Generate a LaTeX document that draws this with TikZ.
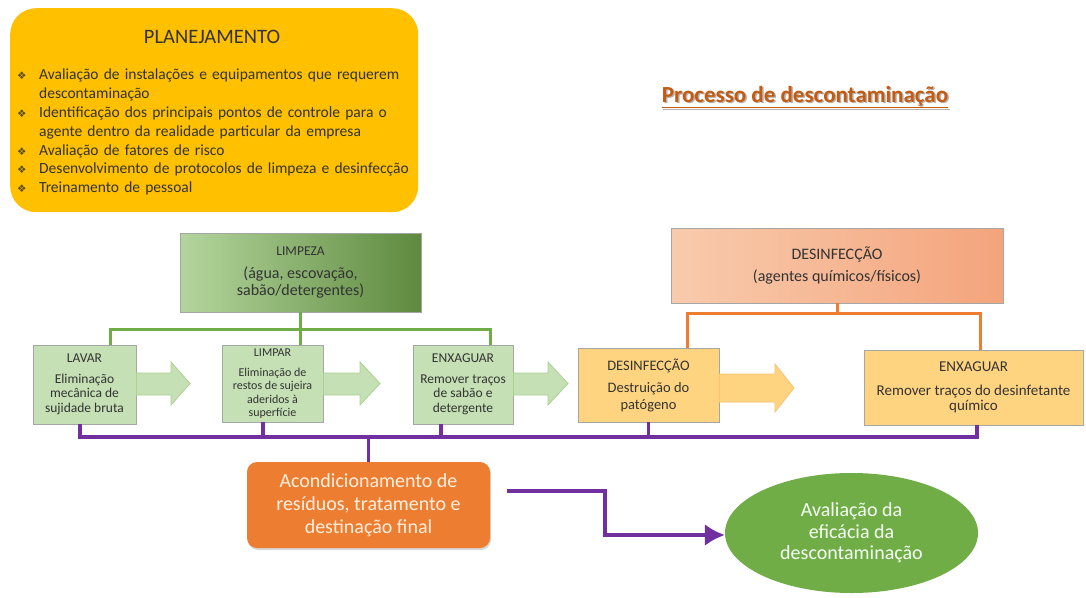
\documentclass[tikz,border=0pt]{standalone}
\usepackage{fontspec}
\setmainfont{Carlito}
\newfontfamily\symfont{DejaVu Sans}
\usetikzlibrary{shapes.geometric,shadows,arrows.meta}
\definecolor{plangold}{HTML}{FFC000}
\definecolor{titorange}{HTML}{C55A11}
\definecolor{lgreen}{HTML}{C5E0B4}
\definecolor{mgreen}{HTML}{70AD47}
\definecolor{dgreen}{HTML}{5E8A3E}
\definecolor{lorange}{HTML}{F8CBAD}
\definecolor{morange}{HTML}{F4A47C}
\definecolor{corange}{HTML}{ED7D31}
\definecolor{lyellow}{HTML}{FFD480}
\definecolor{purp}{HTML}{7030A0}
\definecolor{boxline}{HTML}{A6A6A6}
\definecolor{txt}{HTML}{333333}
\definecolor{bulcol}{HTML}{5A4A10}
\newcommand{\bul}{\makebox[22pt][l]{\color{bulcol}\symfont\fontsize{10.5}{10}\selectfont ❖}}
\tikzset{
  stepgreen/.style={draw=boxline, line width=0.8pt, fill=lgreen, text=txt, align=center, inner sep=0pt},
  stepyellow/.style={draw=boxline, line width=0.8pt, fill=lyellow, text=txt, align=center, inner sep=0pt},
  garrow/.style={draw=lgreen!70!mgreen, line width=0.8pt, fill=lgreen},
  yarrow/.style={draw=lyellow!80!corange, line width=0.8pt, fill=lyellow},
  gline/.style={draw=mgreen, line width=3pt},
  oline/.style={draw=corange, line width=3pt},
  pline/.style={draw=purp, line width=3.5pt},
  header/.style={draw=boxline, line width=0.8pt, text=txt, align=center, inner sep=0pt},
}
\begin{document}
\begin{tikzpicture}[x=1pt,y=-1pt]
\useasboundingbox (0,0) rectangle (1086,597);
\fill[white] (0,0) rectangle (1086,597);

% Planejamento
\node[fill=plangold, rounded corners=26pt, minimum width=408, minimum height=204, anchor=north west] (plan) at (10,8) {};
\node[text=txt, font=\fontsize{20.5}{22}\selectfont] (plantitle) at (212,37) {PLANEJAMENTO};
\node[anchor=north west, text=txt, font=\fontsize{15.5}{18.8}\selectfont, text width=398, align=left, inner sep=0pt] (planlist) at (17,69) {%
\bul Avaliação de instalações e equipamentos que requerem\\
\hspace*{22pt}descontaminação\\
\bul Identificação dos principais pontos de controle para o\\
\hspace*{22pt}agente dentro da realidade particular da empresa\\
\bul Avaliação de fatores de risco\\
\bul Desenvolvimento de protocolos de limpeza e desinfecção\\
\bul Treinamento de pessoal};

% Title
\node[text=black!30, font=\bfseries\fontsize{23}{26}\selectfont] at (806.5,98.5) {\underline{Processo de descontaminação}};
\node[text=titorange, font=\bfseries\fontsize{23}{26}\selectfont] (title) at (805,97) {\underline{Processo de descontaminação}};

% headers
\node[header, left color=lgreen!80!mgreen, right color=dgreen, minimum width=241, minimum height=79, font=\fontsize{16}{17}\selectfont] (limpeza) at (300.5,272.5) {{\fontsize{13.5}{13.5}\selectfont LIMPEZA}\\[6pt](água, escovação,\\sabão/detergentes)};
\node[header, left color=lorange, right color=morange, minimum width=332, minimum height=75, font=\fontsize{16}{17}\selectfont] (desinfH) at (837,265.5) {DESINFECÇÃO\\[5pt](agentes químicos/físicos)};

% Step boxes
\node[stepgreen, minimum width=103, minimum height=79, font=\fontsize{13.5}{14.5}\selectfont] (lavar) at (84.5,384.5) {LAVAR\\[6pt]Eliminação\\mecânica de\\sujidade bruta};
\node[stepgreen, minimum width=101, minimum height=77, font=\fontsize{12}{13.2}\selectfont] (limpar) at (272.5,383.5) {LIMPAR\\[7pt]Eliminação de\\restos de sujeira\\aderidos à\\superfície};
\node[stepgreen, minimum width=100, minimum height=79, font=\fontsize{13.5}{14.5}\selectfont] (enx1) at (463,384.5) {ENXAGUAR\\[6pt]Remover traços\\de sabão e\\detergente};
\node[stepyellow, minimum width=141, minimum height=74, font=\fontsize{14.5}{17}\selectfont] (desinf) at (648.5,385) {DESINFECÇÃO\\[5pt]Destruição do\\patógeno};
\node[stepyellow, minimum width=219, minimum height=75, font=\fontsize{15}{15.5}\selectfont] (enx2) at (973.5,387.5) {ENXAGUAR\\[8pt]Remover traços do desinfetante\\químico};

% block arrows
\path[garrow] (lavar.east |- 0,373) -- (171,373) -- (171,362) -- (190,383.5) -- (171,405) -- (171,395) -- (lavar.east |- 0,395) -- cycle;
\path[garrow] (limpar.east |- 0,373) -- (360,373) -- (360,362) -- (380,383.5) -- (360,405) -- (360,395) -- (limpar.east |- 0,395) -- cycle;
\path[garrow] (enx1.east |- 0,373) -- (548,373) -- (548,362) -- (568,383.5) -- (548,405) -- (548,395) -- (enx1.east |- 0,395) -- cycle;
\path[yarrow] (desinf.east |- 0,374) -- (775,374) -- (775,364) -- (794,388) -- (775,412) -- (775,402) -- (desinf.east |- 0,402) -- cycle;

% green connectors
\coordinate (gj) at (limpeza.south |- 0,329);
\draw[gline] (limpeza.south) -- (limpar.north -| limpeza.south);
\draw[gline] (lavar.north -| 110,0) |- (gj) -| (enx1.north -| 490,0);

% orange connectors
\coordinate (oj) at (desinfH.south |- 0,313);
\draw[oline] (desinfH.south) -- (oj);
\draw[oline] (desinf.north -| 687,0) |- (oj) -| (enx2.north -| 980,0);

% bottom nodes
\node[fill=corange, rounded corners=10pt, minimum width=243, minimum height=86, text=orange!12, align=center, font=\fontsize{20}{23}\selectfont, inner sep=0pt, drop shadow={opacity=0.3, shadow xshift=1pt, shadow yshift=-2pt}] (acond) at (368.5,505) {Acondicionamento de\\resíduos, tratamento e\\destinação final};
\node[ellipse, fill=mgreen, minimum width=253, minimum height=120, text=green!4!white, align=center, font=\fontsize{20}{21.5}\selectfont, inner sep=0pt] (aval) at (851.5,533) {Avaliação da\\eficácia da\\descontaminação};

% purple connectors
\coordinate (pj) at (acond.north |- 0,437);
\draw[pline] (lavar.south -| 80,0) |- (pj) -| (enx2.south -| 977,0);
\draw[pline] (limpar.south -| 263,0) -- (263,437);
\draw[pline] (enx1.south -| 441,0) -- (441,437);
\draw[pline] (desinf.south) -- (desinf.south |- 0,437);
\draw[pline] (pj) -- (acond.north);
\coordinate (ps) at (507,491);
\draw[pline, -{Latex[length=20pt,width=22pt]}] (ps) -| (605,535) -- (aval.west |- 0,535);
\end{tikzpicture}
\end{document}
